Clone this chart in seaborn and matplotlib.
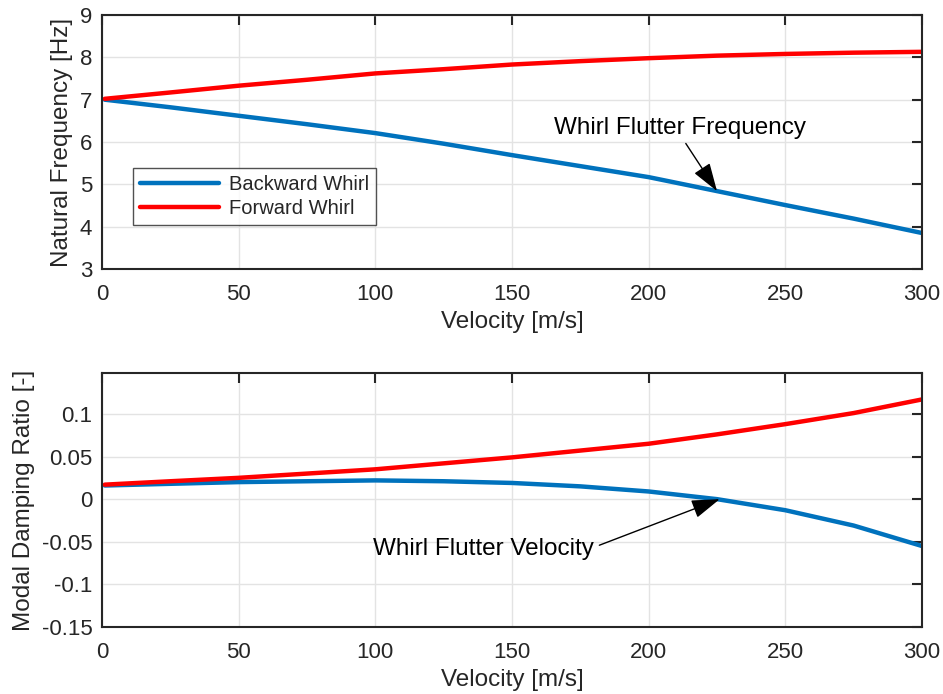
import numpy as np
import pandas as pd
import matplotlib
matplotlib.use("Agg")
import matplotlib.pyplot as plt
import seaborn as sns

velocity = [1, 25, 50, 75, 100, 125, 150, 175, 200, 225, 250, 275, 300]
freq_backward = [7.0, 6.82, 6.62, 6.42, 6.21, 5.96, 5.69, 5.43, 5.17, 4.84, 4.51, 4.19, 3.85]
freq_forward = [7.02, 7.17, 7.33, 7.47, 7.62, 7.72, 7.83, 7.91, 7.98, 8.04, 8.08, 8.11, 8.13]
damp_backward = [0.016, 0.018, 0.020, 0.021, 0.022, 0.021, 0.019, 0.015, 0.009, 0.0, -0.013, -0.031, -0.055]
damp_forward = [0.017, 0.021, 0.025, 0.030, 0.035, 0.042, 0.049, 0.057, 0.065, 0.076, 0.088, 0.101, 0.117]
series_names = ["Backward Whirl", "Forward Whirl"]
palette = {"Backward Whirl": "#0072BD", "Forward Whirl": "#FF0000"}

freq_df = pd.DataFrame({
    "Velocity": velocity * 2,
    "Value": freq_backward + freq_forward,
    "Mode": [series_names[0]] * len(velocity) + [series_names[1]] * len(velocity),
})
damp_df = pd.DataFrame({
    "Velocity": velocity * 2,
    "Value": damp_backward + damp_forward,
    "Mode": [series_names[0]] * len(velocity) + [series_names[1]] * len(velocity),
})

sns.set_style("whitegrid")
plt.rcParams["font.family"] = ["Liberation Sans", "DejaVu Sans"]
plt.rcParams["text.color"] = "#262626"

fig = plt.figure(figsize=(9.43, 6.94), dpi=100)
ax1 = fig.add_axes([102/943, 1 - 269/694, 820/943, 254/694])
ax2 = fig.add_axes([102/943, 1 - 627/694, 820/943, 254/694])

sns.lineplot(data=freq_df, x="Velocity", y="Value", hue="Mode", palette=palette,
             linewidth=3.2, ax=ax1, legend=True)
sns.lineplot(data=damp_df, x="Velocity", y="Value", hue="Mode", palette=palette,
             linewidth=3.2, ax=ax2, legend=False)

for ax in (ax1, ax2):
    ax.set_xlim(0, 300)
    ax.set_xticks([0, 50, 100, 150, 200, 250, 300])
    ax.grid(True, color="#e3e3e3", linewidth=1)
    ax.set_axisbelow(True)
    for s in ax.spines.values():
        s.set_color("#262626")
        s.set_linewidth(1.5)
        s.set_visible(True)
    ax.tick_params(direction="in", length=7, width=1.5, color="#262626",
                   top=True, right=True, labelsize=16, labelcolor="#262626")
    ax.tick_params(axis="x", pad=11)
    ax.tick_params(axis="y", pad=7)
    ax.set_xlabel("Velocity [m/s]", fontsize=17.5, color="#262626", labelpad=4)

ax1.set_ylim(3, 9)
ax1.set_yticks([3, 4, 5, 6, 7, 8, 9])
ax1.set_ylabel("Natural Frequency [Hz]", fontsize=17.5, color="#262626", labelpad=5)

ax2.set_ylim(-0.15, 0.148)
ax2.set_yticks([-0.15, -0.1, -0.05, 0, 0.05, 0.1])
ax2.set_yticklabels(["-0.15", "-0.1", "-0.05", "0", "0.05", "0.1"])
ax2.set_ylabel("Modal Damping Ratio [-]", fontsize=17.5, color="#262626", labelpad=5)

leg = ax1.legend(loc="upper left", bbox_to_anchor=(0.038, 0.398), borderaxespad=0,
                 fontsize=14.5, frameon=True, fancybox=False, edgecolor="#262626",
                 handlelength=3.9, handletextpad=0.5, borderpad=0.35, labelspacing=0.25)
leg.get_frame().set_linewidth(1.0)
for h in leg.get_lines():
    h.set_linewidth(3.2)

ax1.annotate("Whirl Flutter Frequency", xy=(225, 4.84), xytext=(165.5, 6.33),
             fontsize=17.5, color="black", va="center", ha="left",
             arrowprops=dict(arrowstyle="-|>,head_length=1.0,head_width=0.33",
                             color="black", lw=1, shrinkA=1, shrinkB=0,
                             relpos=(0.51, 0)))
ax2.annotate("Whirl Flutter Velocity", xy=(226, 0.0), xytext=(99, -0.058),
             fontsize=17.5, color="black", va="center", ha="left",
             arrowprops=dict(arrowstyle="-|>,head_length=1.0,head_width=0.33",
                             color="black", lw=1, shrinkA=2, shrinkB=0,
                             relpos=(1, 0.55)))

fig.savefig("out.png", dpi=100)
